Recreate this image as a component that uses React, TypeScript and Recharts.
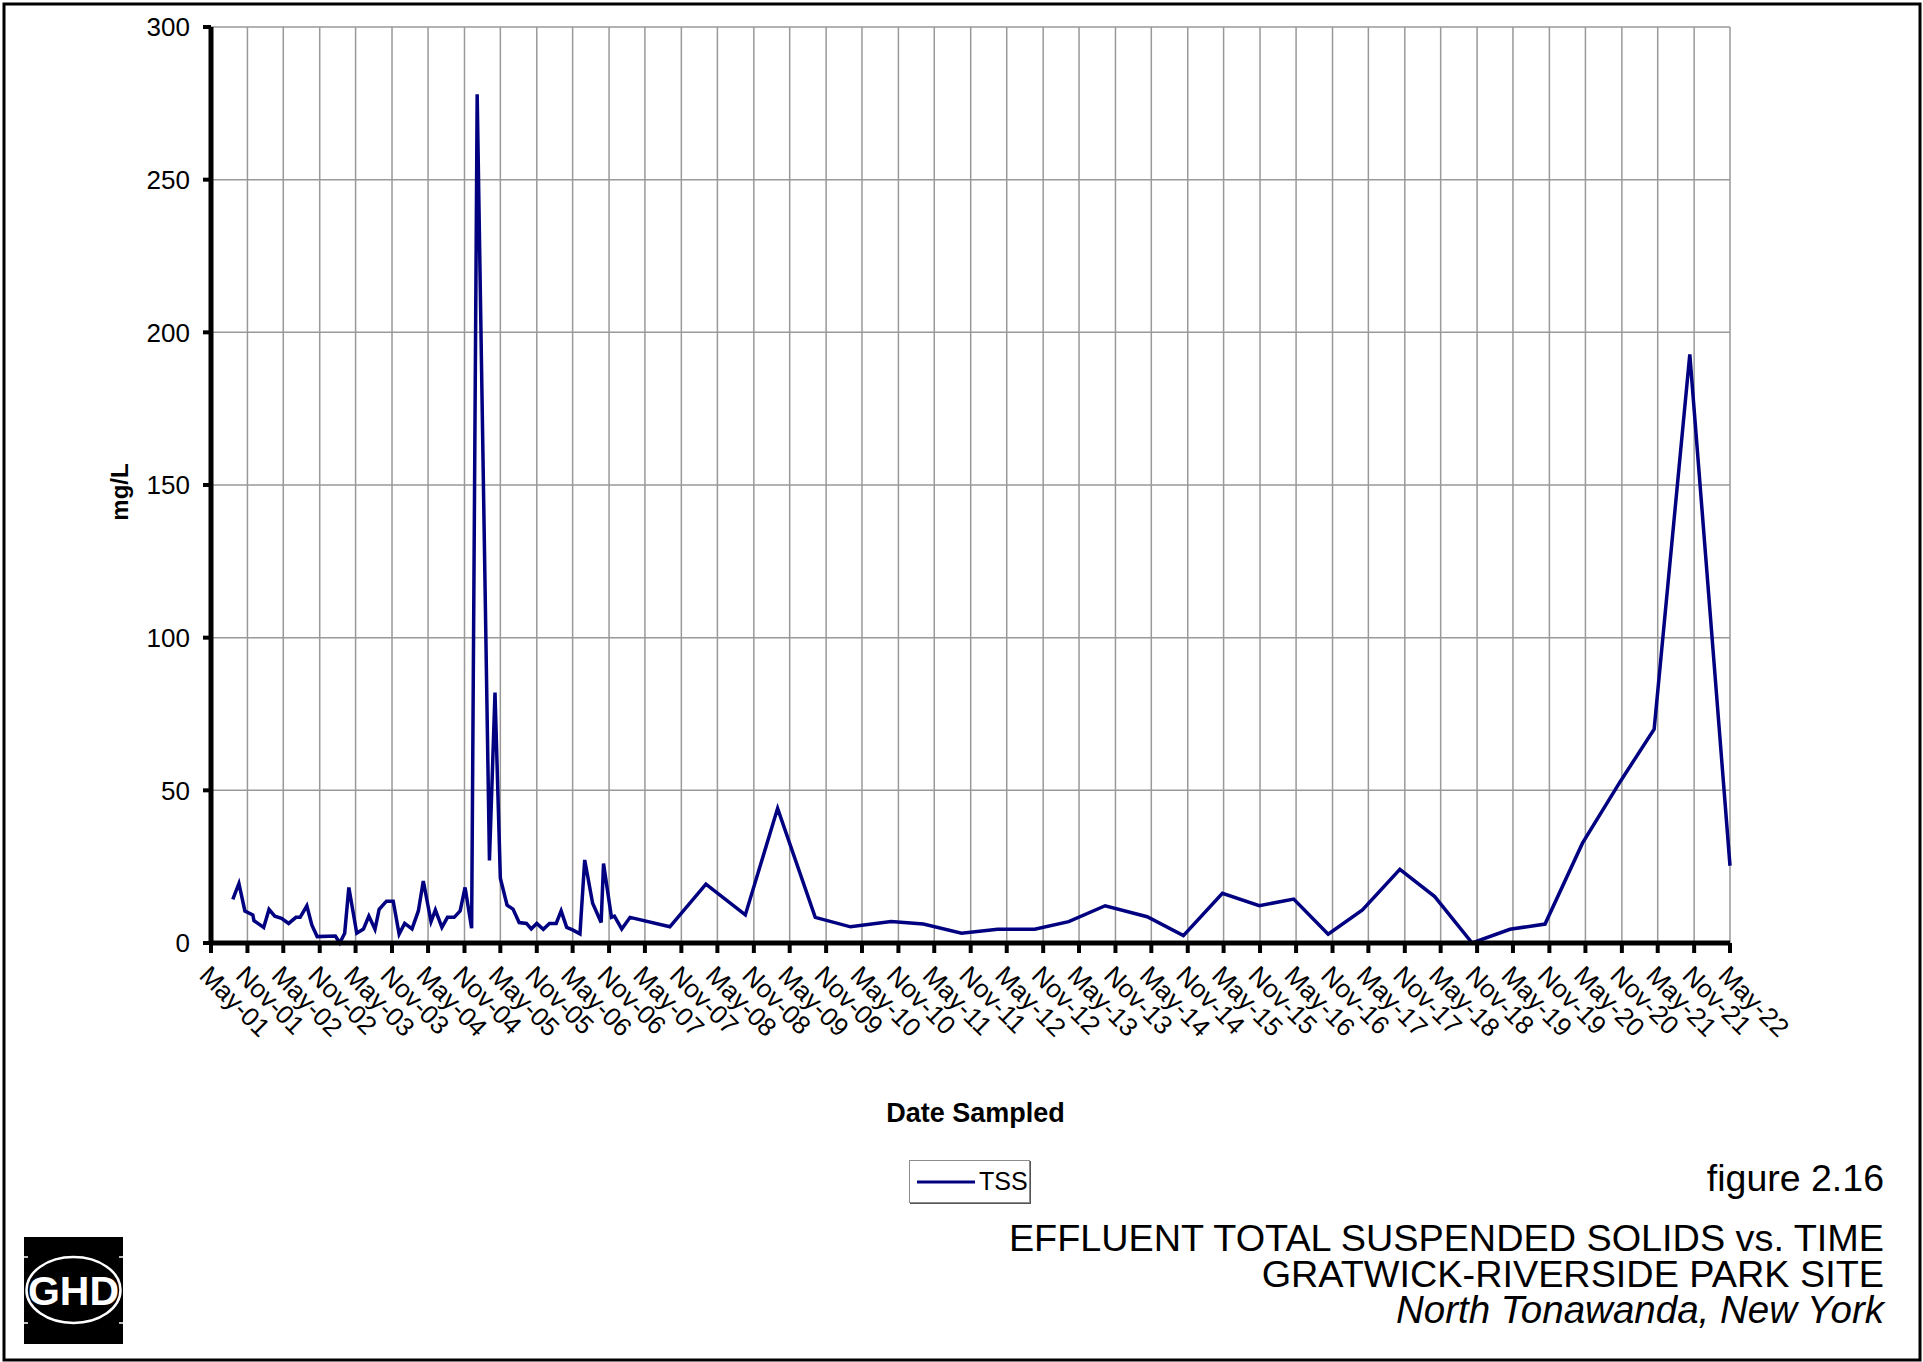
import React from 'react';
import { LineChart, Line, XAxis, YAxis, CartesianGrid, Legend } from 'recharts';

const sampleDates = [
  '2001-08-19', '2001-09-19', '2001-10-19', '2001-11-28', '2001-12-04', '2002-01-22', '2002-02-18', '2002-03-19',
  '2002-04-22', '2002-05-28', '2002-07-04', '2002-07-25', '2002-08-28', '2002-09-22', '2002-10-19', '2003-01-19',
  '2003-02-10', '2003-03-07', '2003-03-28', '2003-05-07', '2003-06-10', '2003-07-07', '2003-08-07', '2003-08-28',
  '2003-10-04', '2003-11-07', '2003-12-07', '2004-01-04', '2004-02-10', '2004-03-13', '2004-04-07', '2004-05-16',
  '2004-06-07', '2004-07-10', '2004-08-07', '2004-09-10', '2004-10-10', '2004-11-04', '2004-12-07', '2005-01-04',
  '2005-03-07', '2005-04-04', '2005-05-01', '2005-06-04', '2005-07-04', '2005-08-04', '2005-09-10', '2005-10-04',
  '2005-11-01', '2005-12-04', '2006-01-04', '2006-02-07', '2006-03-04', '2006-04-01', '2006-05-01', '2006-06-07',
  '2006-07-01', '2006-08-10', '2006-09-22', '2006-10-04', '2006-11-13', '2006-11-28', '2007-01-04', '2007-02-15',
  '2007-09-04', '2008-03-04', '2008-09-19', '2009-03-01', '2009-09-07', '2010-03-04', '2010-09-25', '2011-03-07',
  '2011-09-16', '2012-03-16', '2012-09-19', '2013-03-10', '2013-09-10', '2014-04-10', '2014-10-10', '2015-04-25',
  '2015-10-28', '2016-04-19', '2016-10-10', '2017-04-01', '2017-10-07', '2018-04-01', '2018-10-07', '2019-04-16',
  '2019-10-10', '2020-04-16', '2020-10-25', '2021-04-13', '2021-10-10', '2022-05-01',
];

const tssValues = [
  14.3, 19.5, 10.5, 9.2, 7.3, 5.1, 11, 8.8,
  8.1, 6.4, 8.4, 8.4, 12.2, 5.9, 2.1, 2.3,
  0, 3.2, 18.2, 3.2, 4.6, 8.8, 4.5, 11,
  13.7, 13.7, 2.9, 6.4, 4.6, 10.5, 20.3, 7,
  10.8, 5.1, 8.4, 8.4, 10.5, 18.2, 4.8, 278,
  27, 82, 21.2, 12.4, 11.1, 6.7, 6.4, 4.6,
  6.4, 4.5, 6.4, 6.4, 10.5, 5.1, 4.3, 3,
  27.2, 13, 6.7, 26, 8.4, 8.8, 4.6, 8.4,
  5.3, 19.3, 9.2, 44.1, 8.4, 5.3, 7, 6.2,
  3.2, 4.5, 4.5, 7, 12.2, 8.6, 2.4, 16.3,
  12.2, 14.4, 2.9, 10.8, 24.1, 15.2, 0, 4.5,
  6.2, 32.7, 53, 70, 192.8, 25.3,
];

const xTickDates = [
  '2001-05-01', '2001-11-01', '2002-05-01', '2002-11-01', '2003-05-01', '2003-11-01', '2004-05-01', '2004-11-01',
  '2005-05-01', '2005-11-01', '2006-05-01', '2006-11-01', '2007-05-01', '2007-11-01', '2008-05-01', '2008-11-01',
  '2009-05-01', '2009-11-01', '2010-05-01', '2010-11-01', '2011-05-01', '2011-11-01', '2012-05-01', '2012-11-01',
  '2013-05-01', '2013-11-01', '2014-05-01', '2014-11-01', '2015-05-01', '2015-11-01', '2016-05-01', '2016-11-01',
  '2017-05-01', '2017-11-01', '2018-05-01', '2018-11-01', '2019-05-01', '2019-11-01', '2020-05-01', '2020-11-01',
  '2021-05-01', '2021-11-01', '2022-05-01',
];

const xTickLabels = [
  'May-01', 'Nov-01', 'May-02', 'Nov-02', 'May-03', 'Nov-03', 'May-04', 'Nov-04',
  'May-05', 'Nov-05', 'May-06', 'Nov-06', 'May-07', 'Nov-07', 'May-08', 'Nov-08',
  'May-09', 'Nov-09', 'May-10', 'Nov-10', 'May-11', 'Nov-11', 'May-12', 'Nov-12',
  'May-13', 'Nov-13', 'May-14', 'Nov-14', 'May-15', 'Nov-15', 'May-16', 'Nov-16',
  'May-17', 'Nov-17', 'May-18', 'Nov-18', 'May-19', 'Nov-19', 'May-20', 'Nov-20',
  'May-21', 'Nov-21', 'May-22',
];

const yTicks = [0, 50, 100, 150, 200, 250, 300];

const FONT = '"Liberation Sans", Arial, Helvetica, sans-serif';

const toTime = (d: string) => Date.parse(d + 'T00:00:00Z');
const data = sampleDates.map((d, i) => ({ t: toTime(d), tss: tssValues[i] }));
const tickTimes = xTickDates.map(toTime);
const labelFor = (t: number) => {
  const i = tickTimes.indexOf(t);
  return i >= 0 ? xTickLabels[i] : '';
};

const XTick = (props: any) => {
  const { x, y, payload } = props;
  return (
    <text
      x={x}
      y={y}
      dy="0.71em"
      transform={`rotate(45 ${x} ${y})`}
      textAnchor="start"
      fontSize={26}
      fontFamily={FONT}
      fill="#000"
    >
      {labelFor(payload.value)}
    </text>
  );
};

const renderLegend = (props: any) => {
  const items = props.payload || [];
  return (
    <div
      style={{
        width: 121,
        height: 43,
        boxSizing: 'border-box',
        border: '1px solid #8c8c8c',
        boxShadow: '1px 1px 0 #555',
        background: '#fff',
        display: 'flex',
        alignItems: 'center',
        paddingLeft: 7,
      }}
    >
      {items.map((it: any) => (
        <div key={it.value} style={{ display: 'flex', alignItems: 'center' }}>
          <svg width={58} height={6} style={{ display: 'block' }}>
            <line x1={0} y1={3} x2={58} y2={3} stroke={it.color} strokeWidth={3} />
          </svg>
          <span style={{ fontFamily: FONT, fontSize: 25, marginLeft: 4, lineHeight: '1', color: '#000' }}>
            {it.value}
          </span>
        </div>
      ))}
    </div>
  );
};

const YLabel = () => (
  <text
    transform="translate(119 492) rotate(-90)"
    textAnchor="middle"
    dominantBaseline="central"
    fontSize={24}
    fontWeight="bold"
    fontFamily={FONT}
    fill="#000"
  >
    mg/L
  </text>
);

export default function App() {
  return (
    <div
      style={{
        position: 'absolute',
        left: 0,
        top: 0,
        width: 1923,
        height: 1362,
        background: '#fff',
        fontFamily: FONT,
        overflow: 'hidden',
      }}
    >
      <LineChart
        width={1923}
        height={1362}
        data={data}
        margin={{ top: 27, right: 193, left: 0, bottom: 229 }}
      >
        <CartesianGrid stroke="#999999" strokeWidth={1.5} />
        <XAxis
          dataKey="t"
          type="number"
          domain={[tickTimes[0], tickTimes[tickTimes.length - 1]]}
          ticks={tickTimes}
          interval={0}
          height={190}
          tick={<XTick />}
          tickSize={10}
          tickMargin={11}
          axisLine={{ stroke: '#000', strokeWidth: 5 }}
          tickLine={{ stroke: '#000', strokeWidth: 4 }}
          label={{
            value: 'Date Sampled',
            position: 'insideBottom',
            offset: 11,
            dx: 5,
            style: { fontSize: 27, fontWeight: 'bold', fontFamily: FONT, fill: '#000' },
          }}
        />
        <YAxis
          type="number"
          domain={[0, 300]}
          ticks={yTicks}
          interval={0}
          width={211}
          tickSize={8}
          tickMargin={13}
          tick={{ fontSize: 26, fontFamily: FONT, fill: '#000' }}
          axisLine={{ stroke: '#000', strokeWidth: 5 }}
          tickLine={{ stroke: '#000', strokeWidth: 4 }}
          label={{ content: <YLabel /> }}
        />
        <Legend
          layout="vertical"
          align="center"
          verticalAlign="middle"
          wrapperStyle={{ left: 909, top: 1160, width: 121, height: 43 }}
          content={renderLegend}
        />
        <Line
          type="linear"
          dataKey="tss"
          name="TSS"
          stroke="#000080"
          strokeWidth={3.5}
          dot={false}
          activeDot={false}
          isAnimationActive={false}
        />
      </LineChart>
      <svg
        width={1923}
        height={1362}
        style={{ position: 'absolute', left: 0, top: 0, pointerEvents: 'none' }}
      >
        <rect x={4} y={4} width={1916} height={1356} fill="none" stroke="#000" strokeWidth={3} />
        <g fontFamily={FONT} fill="#000" textAnchor="end">
          <text x={1884} y={1191} fontSize={37.5}>figure 2.16</text>
          <text x={1884} y={1251} fontSize={37.8}>EFFLUENT TOTAL SUSPENDED SOLIDS vs. TIME</text>
          <text x={1884} y={1287} fontSize={37.8}>GRATWICK-RIVERSIDE PARK SITE</text>
          <text x={1884} y={1323} fontSize={38.5} fontStyle="italic">North Tonawanda, New York</text>
        </g>
        <g>
          <rect x={24} y={1237} width={99} height={107} fill="#000" />
          <ellipse cx={73.5} cy={1290} rx={47} ry={33} fill="#000" stroke="#fff" strokeWidth={2.5} />
          <line x1={24} y1={1257} x2={28} y2={1257} stroke="#fff" strokeWidth={1.5} />
          <line x1={24} y1={1323} x2={28} y2={1323} stroke="#fff" strokeWidth={1.5} />
          <line x1={119} y1={1257} x2={123} y2={1257} stroke="#fff" strokeWidth={1.5} />
          <line x1={119} y1={1323} x2={123} y2={1323} stroke="#fff" strokeWidth={1.5} />
          <text x={73.5} y={1305} textAnchor="middle" fill="#fff" fontWeight="bold" fontSize={41} fontFamily={FONT}>
            GHD
          </text>
        </g>
      </svg>
    </div>
  );
}
